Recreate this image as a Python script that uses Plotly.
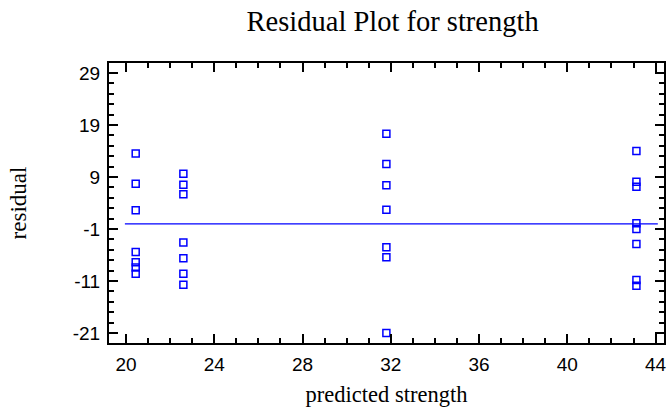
import plotly.graph_objects as go

# Data
predicted = [20.44]*7 + [22.6]*7 + [31.8]*7 + [43.13]*8
residuals = [13.5, 7.7, 2.6, -5.4, -7.4, -8.4, -9.6,
             9.6, 7.5, 5.7, -3.6, -6.6, -9.6, -11.7,
             17.3, 11.5, 7.4, 2.7, -4.5, -6.4, -21.0,
             14.0, 8.1, 7.1, 0.1, -1.0, -3.9, -10.8, -11.9]
zero_line_x = [19.95, 44.1]
zero_line_y = [0, 0]
x_ticks = [20, 24, 28, 32, 36, 40, 44]
y_ticks = [29, 19, 9, -1, -11, -21]
y_tick_labels = ["29", "19", "9", "-1", "-11", "-21"]

fig = go.Figure()
fig.add_trace(go.Scatter(x=zero_line_x, y=zero_line_y, mode="lines",
                         line=dict(color="#0000ff", width=1.3), hoverinfo="skip"))
fig.add_trace(go.Scatter(x=predicted, y=residuals, mode="markers",
                         marker=dict(symbol="square-open", size=7, color="#0000ff",
                                     line=dict(width=1.5, color="#0000ff"))))

serif = "Liberation Serif, Times New Roman, serif"
axis_common = dict(showline=True, linecolor="black", linewidth=2, mirror="ticks",
                   ticks="inside", tickcolor="black", showgrid=False, zeroline=False,
                   tickfont=dict(family="Liberation Sans, Arial", size=19, color="black"))

fig.update_xaxes(range=[19.23, 44.38], tickvals=x_ticks, ticklen=9, tickwidth=2,
                 ticklabelstandoff=3,
                 minor=dict(dtick=1, tick0=0, ticks="inside", ticklen=5, tickcolor="black", tickwidth=1.5),
                 title=dict(text="predicted strength",
                            font=dict(family=serif, size=22.5, color="black"),
                            standoff=12),
                 **axis_common)
fig.update_yaxes(range=[-22.9, 30.9], tickmode="array", tickvals=y_ticks, ticktext=y_tick_labels,
                 ticklen=9, tickwidth=2, ticklabelstandoff=3,
                 minor=dict(dtick=2, tick0=1, ticks="inside", ticklen=5, tickcolor="black", tickwidth=1.5),
                 title=dict(text="residual",
                            font=dict(family=serif, size=23, color="black"),
                            standoff=40),
                 **axis_common)

fig.update_layout(
    width=670, height=413,
    margin=dict(l=109, r=3, t=63, b=70),
    paper_bgcolor="white", plot_bgcolor="white",
    showlegend=False,
    title=dict(text="Residual Plot for strength", x=0.586, xanchor="center", y=0.95, yanchor="middle",
               font=dict(family=serif, size=28.5, color="black")),
)

fig.write_html("out.html")
